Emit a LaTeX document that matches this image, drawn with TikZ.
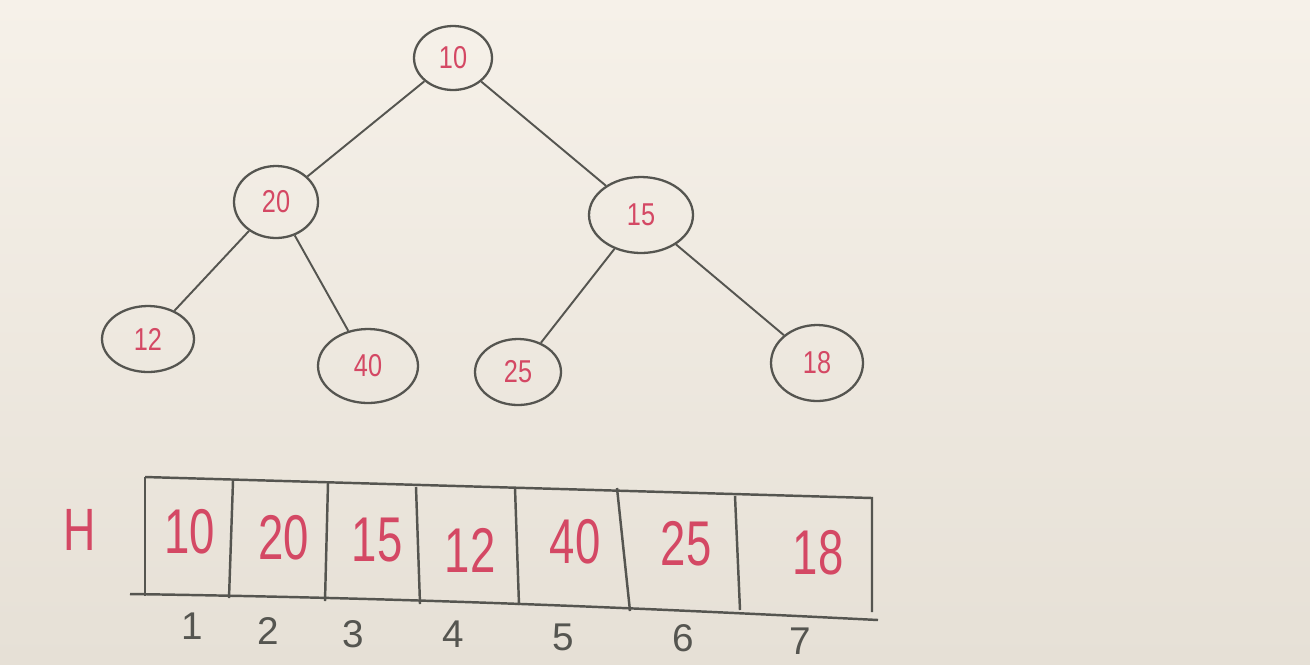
\documentclass[tikz,border=0pt]{standalone}
\usepackage{fontspec}
\setmainfont{Liberation Sans}
\usetikzlibrary{shapes.geometric}
\definecolor{bgtop}{RGB}{246,241,233}
\definecolor{bgbot}{RGB}{230,224,214}
\definecolor{ink}{RGB}{85,85,80}
\definecolor{redink}{RGB}{212,72,100}
\tikzset{
  px/.style={x=0.02cm,y=-0.02cm},
  heapnode/.style={ellipse,draw=ink,line width=1.3pt,inner sep=0pt,text=redink,font=\fontsize{18}{18}\selectfont},
  edge/.style={draw=ink,line width=1.1pt},
  cell/.style={text=redink,font=\fontsize{36}{36}\selectfont,inner sep=0pt},
  idx/.style={text=ink,font=\fontsize{22}{22}\selectfont,inner sep=0pt},
  frame/.style={draw=ink,line width=1.4pt}
}
\begin{document}
\begin{tikzpicture}[px]
\shade[top color=bgtop,bottom color=bgbot] (0,0) rectangle (1310,664);
\useasboundingbox (0,0) rectangle (1310,664);
% tree
\node[heapnode,minimum width=1.56cm,minimum height=1.28cm] (n10) at (453,58) {\scalebox{0.8}[1]{10}};
\node[heapnode,minimum width=1.68cm,minimum height=1.44cm] (n20) at (276,202) {\scalebox{0.8}[1]{20}};
\node[heapnode,minimum width=2.08cm,minimum height=1.52cm] (n15) at (641,215) {\scalebox{0.8}[1]{15}};
\node[heapnode,minimum width=1.84cm,minimum height=1.32cm] (n12) at (148,339) {\scalebox{0.8}[1]{12}};
\node[heapnode,minimum width=2.0cm,minimum height=1.48cm] (n40) at (368,366) {\scalebox{0.8}[1]{40}};
\node[heapnode,minimum width=1.72cm,minimum height=1.32cm] (n25) at (518,372) {\scalebox{0.8}[1]{25}};
\node[heapnode,minimum width=1.84cm,minimum height=1.52cm] (n18) at (817,363) {\scalebox{0.8}[1]{18}};
\draw[edge] (n10) -- (n20);
\draw[edge] (n10) -- (n15);
\draw[edge] (n20) -- (n12);
\draw[edge] (n20) -- (n40);
\draw[edge] (n15) -- (n25);
\draw[edge] (n15) -- (n18);
% array frame
\coordinate (tl) at (145,477);
\coordinate (tr) at (872,498);
\coordinate (bl) at (130,594);
\coordinate (br) at (878,620);
\draw[frame] (tl) -- (tr) -- (872,612);
\draw[frame] (tl) -- (145,596);
\draw[frame] (bl) .. controls (400,598) and (600,606) .. (br);
\draw[frame] (233,481) -- (229,598);
\draw[frame] (328,483) -- (325,601);
\draw[frame] (416,487) -- (420,604);
\draw[frame] (515,488) -- (519,605);
\draw[frame] (617,488) -- (630,611);
\draw[frame] (735,496) -- (740,610);
% cells
\node[cell] (c1) at (190,532) {\scalebox{0.72}[1]{10}};
\node[cell] (c2) at (284,538) {\scalebox{0.72}[1]{20}};
\node[cell] (c3) at (377,540) {\scalebox{0.72}[1]{15}};
\node[cell] (c4) at (470,550) {\scalebox{0.72}[1]{12}};
\node[cell] (c5) at (575,542) {\scalebox{0.72}[1]{40}};
\node[cell] (c6) at (686,544) {\scalebox{0.72}[1]{25}};
\node[cell] (c7) at (818,553) {\scalebox{0.72}[1]{18}};
\node[text=redink,font=\fontsize{34}{34}\selectfont,inner sep=0pt] (H) at (80,530) {\scalebox{0.75}[1]{H}};
% indices
\node[idx] (i1) at (192,626) {1};
\node[idx] (i2) at (268,631) {2};
\node[idx] (i3) at (353,634) {3};
\node[idx] (i4) at (453,634) {4};
\node[idx] (i5) at (563,637) {5};
\node[idx] (i6) at (683,638) {6};
\node[idx] (i7) at (800,641) {7};
\end{tikzpicture}
\end{document}
